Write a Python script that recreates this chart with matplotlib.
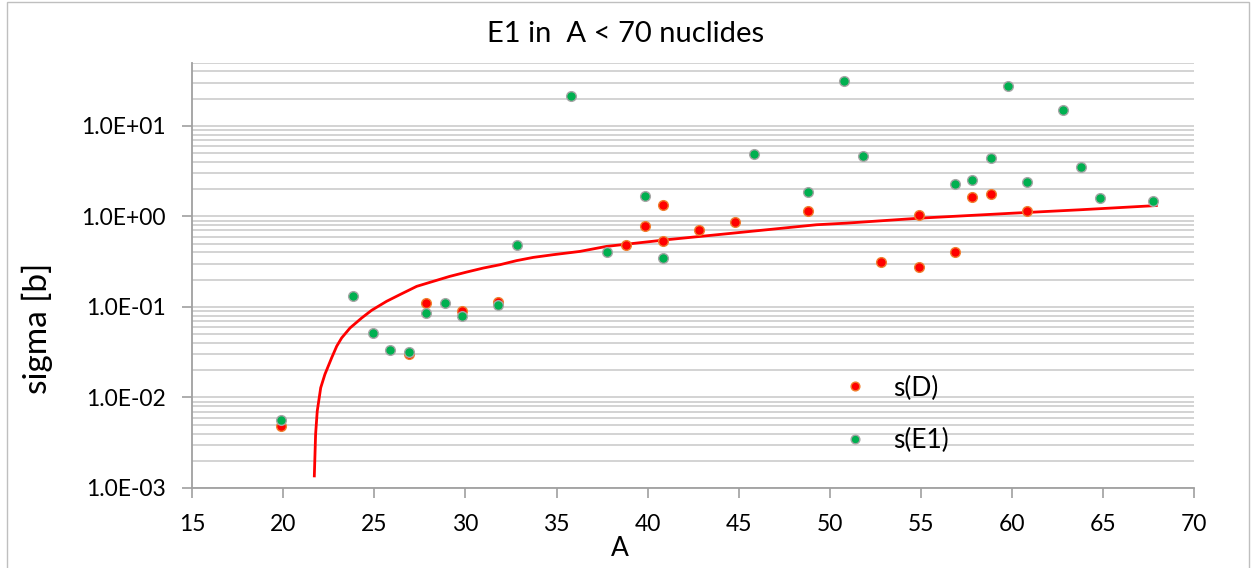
import matplotlib.pyplot as plt
from matplotlib.patches import Rectangle
import numpy as np

plt.rcParams['font.family'] = ['Lato', 'DejaVu Sans']

# s(D) points (red), A positions
d_A = [19.87, 26.90, 27.83, 29.80, 31.80, 38.80, 39.88, 40.83, 40.83, 42.80,
       44.80, 48.80, 52.80, 54.88, 54.88, 56.86, 57.79, 58.85, 60.83]
d_sigma = [4.8e-3, 0.030, 0.112, 0.0912, 0.113, 0.483, 0.78, 1.35, 0.53, 0.71,
           0.87, 1.14, 0.311, 1.03, 0.279, 0.408, 1.66, 1.75, 1.14]

# s(E1) points (green)
e1_A = [19.87, 23.84, 24.90, 25.83, 26.90, 27.83, 28.89, 29.80, 31.80, 32.84,
        35.79, 37.78, 39.88, 40.83, 45.85, 48.80, 50.80, 51.83, 56.86, 57.79,
        58.85, 59.79, 60.83, 62.83, 63.78, 64.82, 67.75]
e1_sigma = [5.7e-3, 0.131, 0.0522, 0.0339, 0.0322, 0.085, 0.112, 0.0805, 0.106,
            0.483, 21.4, 0.408, 1.67, 0.347, 4.9, 1.87, 31.0, 4.67, 2.31, 2.56,
            4.39, 27.8, 2.43, 15.2, 3.53, 1.58, 1.50]

# red curve
curve_A = [21.70, 21.77, 21.86, 22.05, 22.28, 22.65, 22.93, 23.20, 23.66, 24.30,
           24.85, 25.67, 26.40, 27.32, 28.23, 29.14, 30.06, 30.97, 31.89, 32.80,
           33.72, 34.81, 36.28, 37.74, 41.04, 44.68, 49.27, 50.92, 54.94, 60.04,
           63.72, 67.93]
curve_sigma = [1.36e-3, 3.92e-3, 7.08e-3, 0.0128, 0.0180, 0.0274, 0.0369, 0.0455,
               0.0586, 0.0756, 0.092, 0.1156, 0.137, 0.169, 0.192, 0.218, 0.243,
               0.269, 0.293, 0.325, 0.353, 0.378, 0.411, 0.467, 0.553, 0.654,
               0.81, 0.844, 0.958, 1.087, 1.185, 1.32]

xticks = [15, 20, 25, 30, 35, 40, 45, 50, 55, 60, 65, 70]
yticks = [1e-3, 1e-2, 1e-1, 1e0, 1e1]
ytick_labels = ['1.0E-03', '1.0E-02', '1.0E-01', '1.0E+00', '1.0E+01']

W, H = 1253, 568
fig = plt.figure(figsize=(W / 100, H / 100), dpi=100)
ax = fig.add_axes([192.3 / W, 1 - 488 / H, (1194 - 192.3) / W, (488 - 62.7) / H])

# chart area border
fig.patches.append(Rectangle((7 / W, -0.01), (1249 - 7) / W, 1.01 - 2 / H,
                             transform=fig.transFigure, fill=False,
                             edgecolor='#bfbfbf', linewidth=1.0))

ax.set_yscale('log')
ax.set_xlim(15, 70)
ax.set_ylim(1e-3, 50)

ax.plot(curve_A, curve_sigma, color='#ff0000', linewidth=2.0, zorder=3)
ax.plot(d_A, d_sigma, linestyle='none', marker='o', markersize=7,
        markerfacecolor='#ff0000', markeredgecolor='#f08030', markeredgewidth=1.0,
        label='s(D)', zorder=4)
ax.plot(e1_A, e1_sigma, linestyle='none', marker='o', markersize=7,
        markerfacecolor='#00b050', markeredgecolor='#a6a6a6', markeredgewidth=1.0,
        label='s(E1)', zorder=5)

ax.set_xticks(xticks)
ax.set_yticks(yticks)
ax.set_yticklabels(ytick_labels)
ax.yaxis.set_minor_locator(plt.matplotlib.ticker.LogLocator(base=10, subs=np.arange(2, 10)))
ax.yaxis.set_minor_formatter(plt.NullFormatter())
ax.tick_params(axis='y', which='minor', length=0)
ax.tick_params(axis='both', which='major', labelsize=16.5, color='#a0a0a0',
               length=7, width=1.2, direction='out')
ax.tick_params(axis='y', which='major', pad=12)
ax.tick_params(axis='x', which='major', pad=12)

ax.grid(True, axis='y', which='both', color='#cccccc', linewidth=1.2)
ax.set_axisbelow(True)
for s in ['top', 'right']:
    ax.spines[s].set_visible(False)
for s in ['left', 'bottom']:
    ax.spines[s].set_color('#a0a0a0')
    ax.spines[s].set_linewidth(1.3)

fig.text(626 / W, 1 - 34 / H, 'E1 in  A < 70 nuclides', fontsize=21,
         ha='center', va='center')
fig.text(37 / W, 1 - 328 / H, 'sigma [b]', fontsize=24, rotation=90,
         ha='center', va='center')
fig.text(620 / W, 1 - 548 / H, 'A', fontsize=19, ha='center', va='center')

ax.legend(loc='center left', bbox_to_anchor=(843 / W, 1 - 414.5 / H),
          bbox_transform=fig.transFigure, frameon=False, fontsize=19,
          markerscale=0.9, handlelength=0.9, handletextpad=1.0,
          labelspacing=1.05, borderpad=0, borderaxespad=0)

fig.savefig('out.png', dpi=100)
